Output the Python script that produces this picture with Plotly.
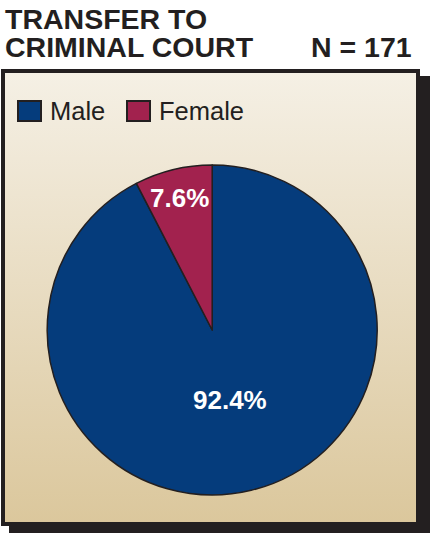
import plotly.graph_objects as go

# ---- data ----
categories = ["Male", "Female"]
values = [92.4, 7.6]
colors = ["#053C7C", "#A2224E"]
title_line1 = "TRANSFER TO"
title_line2 = "CRIMINAL COURT"
n_label = "N = 171"

W, H = 430, 533
DARK = "#231F20"
BG_TOP = "#F5F0E5"
BG_BOTTOM = "#DBC79C"

fig = go.Figure()

# gradient panel background (pixel coordinate axes)
bx0, by0, bx1, by1 = 3, 71, 418, 524
fig.add_trace(go.Scatter(
    x=[bx0, bx1, bx1, bx0, bx0], y=[by0, by0, by1, by1, by0],
    mode="lines", line=dict(width=0), fill="toself",
    fillgradient=dict(type="vertical", colorscale=[[0, BG_BOTTOM], [1, BG_TOP]]),
    hoverinfo="skip", showlegend=False,
))

# pie
cx, cy, r = 212.2, 330, 165
fig.add_trace(go.Pie(
    labels=categories, values=values, sort=False, direction="clockwise", rotation=0,
    marker=dict(colors=colors, line=dict(color=DARK, width=1.5)),
    textinfo="none", showlegend=False, hoverinfo="label+percent",
    domain=dict(x=[(cx - r) / W, (cx + r) / W], y=[1 - (cy + r) / H, 1 - (cy - r) / H]),
))

shapes = [
    # drop shadow
    dict(type="rect", xref="x", yref="y", x0=9, y0=76, x1=430, y1=533,
         fillcolor=DARK, line=dict(width=0), layer="below"),
    # panel border
    dict(type="rect", xref="x", yref="y", x0=bx0, y0=by0, x1=bx1, y1=by1,
         fillcolor="rgba(0,0,0,0)", line=dict(color=DARK, width=4), layer="above"),
]

title_font = dict(family="Liberation Sans", size=28.5, color=DARK)
annotations = [
    dict(text=f"<b>{title_line1}</b>", x=3, y=19, xref="x", yref="y", xanchor="left",
         yanchor="middle", showarrow=False, font=title_font),
    dict(text=f"<b>{title_line2}</b>", x=3, y=46.5, xref="x", yref="y", xanchor="left",
         yanchor="middle", showarrow=False, font=title_font),
    dict(text=f"<b>{n_label}</b>", x=414, y=46.5, xref="x", yref="y", xanchor="right",
         yanchor="middle", showarrow=False, font=title_font),
]

# custom legend
legend_x = [18, 127]
for i, cat in enumerate(categories):
    x0 = legend_x[i]
    shapes.append(dict(type="rect", xref="x", yref="y", x0=x0, y0=101, x1=x0 + 23, y1=121,
                       fillcolor=colors[i], line=dict(color=DARK, width=2), layer="above"))
    annotations.append(dict(text=cat, x=x0 + 30, y=111, xref="x", yref="y", xanchor="left",
                            yanchor="middle", showarrow=False,
                            font=dict(family="Liberation Sans", size=25.5, color=DARK)))

# percentage labels
total = sum(values)
label_pos = [(230, 400), (179, 198)]
for i, v in enumerate(values):
    annotations.append(dict(text=f"<b>{100 * v / total:.1f}%</b>", x=label_pos[i][0], y=label_pos[i][1],
                            xref="x", yref="y", xanchor="center", yanchor="middle", showarrow=False,
                            font=dict(family="Liberation Sans", size=26, color="white")))

fig.update_layout(
    width=W, height=H, margin=dict(l=0, r=0, t=0, b=0),
    paper_bgcolor="white", plot_bgcolor="rgba(0,0,0,0)",
    xaxis=dict(range=[0, W], visible=False, fixedrange=True),
    yaxis=dict(range=[H, 0], visible=False, fixedrange=True),
    shapes=shapes, annotations=annotations, showlegend=False,
)

fig.write_html("out.html", post_script="document.body.style.margin='0';",
               config={"displayModeBar": False})
